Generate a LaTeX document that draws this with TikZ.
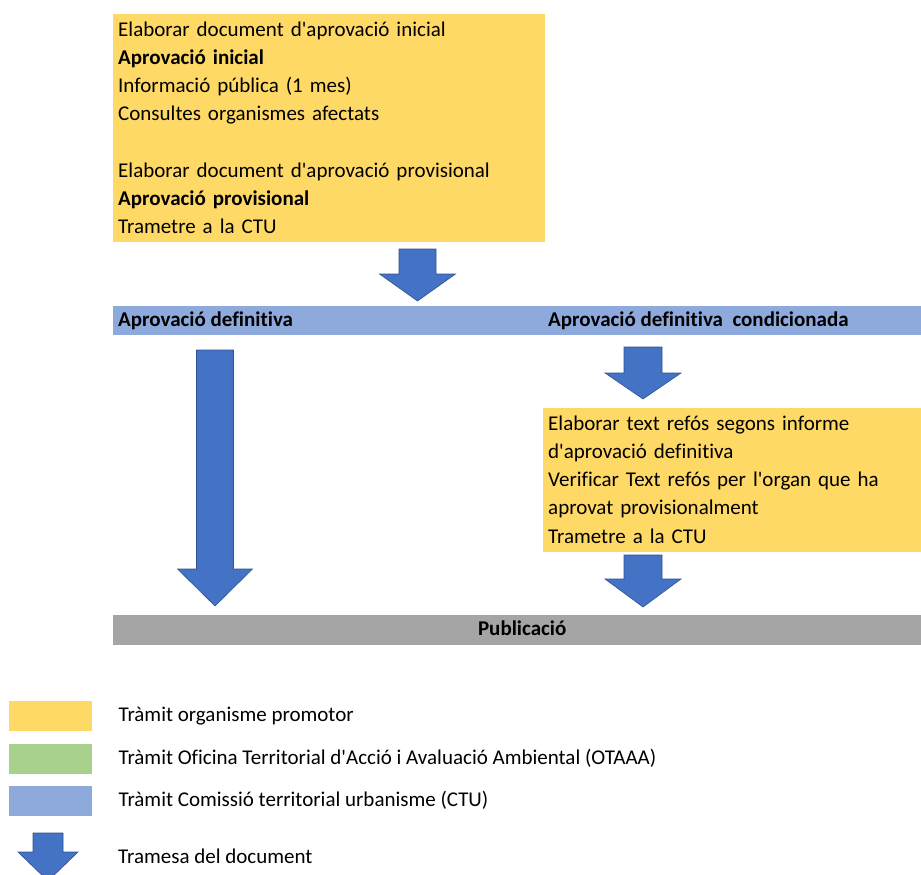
\documentclass[tikz,border=0pt]{standalone}
\usepackage{fontspec}
\setmainfont{Carlito}[Ligatures=NoCommon]
\usepackage{tikz}
\usetikzlibrary{positioning,calc}

\definecolor{promotor}{HTML}{FFD966}
\definecolor{otaaa}{HTML}{A9D18E}
\definecolor{ctu}{HTML}{8EA9DB}
\definecolor{publica}{HTML}{A5A5A5}
\definecolor{fletxa}{HTML}{4472C4}
\definecolor{vora}{HTML}{2F528F}

\newcommand{\ap}{\textquotesingle}
% block arrow: start, tip, shaft half width, head half width, head length
\newcommand{\tramesa}[5]{%
    \draw[envio] ($(#1)+(-#3,0)$) -- ($(#1)+(#3,0)$) -- ($(#2)+(#3,-#5)$)
        -- ($(#2)+(#4,-#5)$) -- (#2) -- ($(#2)+(-#4,-#5)$) -- ($(#2)+(-#3,-#5)$) -- cycle;}

\begin{document}
\begin{tikzpicture}[x=1pt, y=-1pt, font=\fontsize{21}{28.2}\selectfont]
            \tikzstyle{tramit} = [fill=promotor, anchor=north west, inner xsep=5pt, inner ysep=0pt, align=left]
            \tikzstyle{band} = [anchor=north west, minimum width=808pt, minimum height=29pt, inner sep=0pt]
            \tikzstyle{bandtext} = [inner sep=0pt, text height=15pt, text depth=4pt, font=\fontsize{21}{28.2}\selectfont\bfseries]
            \tikzstyle{legend} = [minimum width=83pt, minimum height=30pt, inner sep=0pt]
            \tikzstyle{legtext} = [inner sep=0pt, text height=15pt, text depth=4pt]
            \tikzstyle{envio} = [fill=fletxa, draw=vora, line width=0.6pt, line join=miter]
            \useasboundingbox (0,0) rectangle (921,875);

            \node [tramit, text width=422pt] (inicial) at (113,14) {\rule{0pt}{22pt}Elaborar document d\ap aprovació inicial\\
                \textbf{Aprovació inicial}\\
                Informació pública (1 mes)\\
                Consultes organismes afectats\\
                \mbox{}\\
                Elaborar document d\ap aprovació provisional\\
                \textbf{Aprovació provisional}\\
                Trametre a la CTU\rule[-8.6pt]{0pt}{8.6pt}};

            \node [band, fill=ctu] (ctu) at (113,306) {};
            \node [bandtext, right = 5pt of ctu.west] (def) {Aprovació definitiva};
            \node [bandtext, right = 435pt of ctu.west] (cond) {Aprovació definitiva~ condicionada};

            \node [tramit, text width=368pt] (refos) at (543,408) {\rule{0pt}{22pt}Elaborar text refós segons informe\\
                d\ap aprovació definitiva\\
                Verificar Text refós per l\ap organ que ha\\
                aprovat provisionalment\\
                Trametre a la CTU\rule[-8.6pt]{0pt}{8.6pt}};

            \node [band, fill=publica, minimum height=30pt, font=\fontsize{21}{28.2}\selectfont\bfseries, text height=15pt, text depth=4pt] (publi) at (113,615) {\hspace{10pt}Publicació};

            \coordinate (a1) at (417.5,249);
            \coordinate (a1t) at (417.5,301);
            \coordinate (a2) at (215,350);
            \coordinate (a2t) at (215,606);
            \coordinate (a3) at (643,347);
            \coordinate (a3t) at (643,399);
            \coordinate (a4) at (643,555);
            \coordinate (a4t) at (643,607);
            \tramesa{a1}{a1t}{18.5}{38}{27}
            \tramesa{a2}{a2t}{18.5}{37.5}{37}
            \tramesa{a3}{a3t}{19}{38}{26}
            \tramesa{a4}{a4t}{19}{38}{28}

            % legend
            \node [legend, fill=promotor, anchor=north west] (lprom) at (9,701) {};
            \node [legend, fill=otaaa, below = 12pt of lprom] (lotaaa) {};
            \node [legend, fill=ctu, below = 12pt of lotaaa] (lctu) {};
            \node [legtext, right = 26pt of lprom] (tprom) {Tràmit organisme promotor};
            \node [legtext, right = 26pt of lotaaa] (totaaa) {Tràmit Oficina Territorial d\ap Acció i Avaluació Ambiental (OTAAA)};
            \node [legtext, right = 26pt of lctu] (tctu) {Tràmit Comissió territorial urbanisme (CTU)};

            \coordinate (lenv) at (48,833);
            \coordinate (lenvt) at (48,881);
            \tramesa{lenv}{lenvt}{15}{30}{29}
            \node [legtext, anchor=west] (tenv) at (118,858) {Tramesa del document};
        \end{tikzpicture}
\end{document}
